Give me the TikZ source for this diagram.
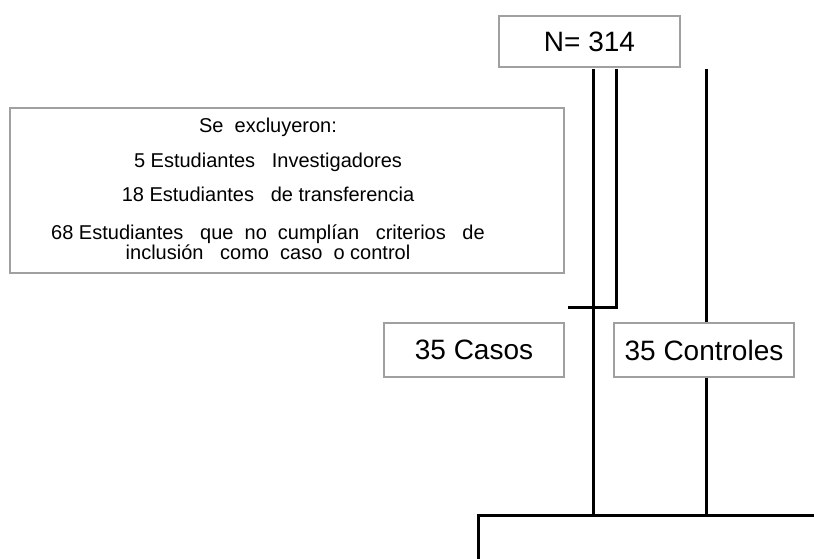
\documentclass[tikz,border=0pt]{standalone}
\usepackage{fontspec}
\setmainfont{Liberation Sans}
\definecolor{boxgray}{HTML}{A0A0A0}
\begin{document}
\begin{tikzpicture}[x=1pt,y=-1pt,
  graybox/.style={draw=boxgray,line width=1.4pt,rectangle,inner sep=0pt,anchor=center},
  bigtxt/.style={font=\fontsize{28}{30}\selectfont},
  link/.style={draw=black,line width=3pt}]
\useasboundingbox[fill=white] (0,0) rectangle (814,559);
% boxes
\node[graybox,minimum width=181pt,minimum height=51pt,bigtxt] (N) at (589.5,41.5) {N= 314};
\node[graybox,minimum width=554pt,minimum height=165pt] (excl) at (287,190.5) {};
\node[align=center,inner sep=0pt,font=\fontsize{20}{20.5}\selectfont] (excltext) at (268,189)
 {Se\ \ excluyeron:\\[14pt]
  5 Estudiantes\ \ \ Investigadores\\[14pt]
  18\ Estudiantes\ \ \ de transferencia\\[17pt]
  68\ Estudiantes\ \ \ que\ \ no\ \ cumplían\ \ \ criterios\ \ \ de\\
  inclusión\ \ \ como\ \ caso\ \ o control};
\node[graybox,minimum width=180pt,minimum height=54pt,bigtxt] (casos) at (474,350) {35 Casos};
\node[graybox,minimum width=180pt,minimum height=54pt,bigtxt] (ctrl) at (704,350) {35 Controles};
% junction points
\coordinate (a0) at (593,69);
\coordinate (a1) at (593,515);
\coordinate (b0) at (616,69);
\coordinate (b1) at (616,307);
\coordinate (b2) at (568,307);
\coordinate (c0) at (706,69);
\coordinate (hL) at (478,515);
\coordinate (hR) at (814,515);
\coordinate (dn) at (478,559);
% connectors
\draw[link] (a0) -- (a1);
\draw[link] (b0) -- (b1) -- (b2);
\draw[link] (c0) -- (c0 |- ctrl.north);
\draw[link] (c0 |- ctrl.south) -- (c0 |- hR);
\draw[link] (dn) -- (hL) -- (hR);
\end{tikzpicture}
\end{document}
